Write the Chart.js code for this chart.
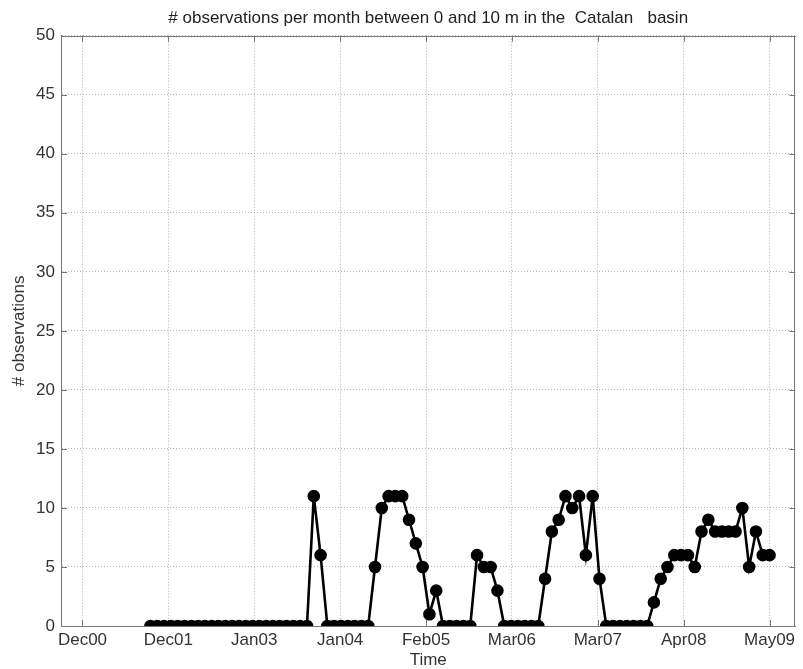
<!DOCTYPE html>
<html>
<head>
<meta charset="utf-8">
<script src="https://cdn.jsdelivr.net/npm/chart.js@4.4.1/dist/chart.umd.min.js"></script>
<style>
  html, body { margin: 0; padding: 0; background: #fff; }
</style>
</head>
<body>
<canvas id="chart" width="803" height="669"></canvas>
<script>
// x positions are months counted from Jan 2000
const tickLabels = ['Dec00', 'Dec01', 'Jan03', 'Jan04', 'Feb05', 'Mar06', 'Mar07', 'Apr08', 'May09'];
const tickMonths = [11, 23.625, 36.25, 48.875, 61.5, 74.125, 86.75, 99.375, 112];
const firstMonth = 21; // Oct 2001
const counts = [
  0, 0, 0, 0, 0, 0, 0, 0, 0, 0, 0, 0, 0, 0, 0, 0, 0, 0, 0, 0, 0, 0, 0, 0,
  11, 6,
  0, 0, 0, 0, 0, 0, 0,
  5, 10, 11, 11, 11, 9, 7, 5, 1, 3,
  0, 0, 0, 0, 0,
  6, 5, 5, 3,
  0, 0, 0, 0, 0, 0,
  4, 8, 9, 11, 10, 11, 6, 11, 4,
  0, 0, 0, 0, 0, 0, 0,
  2, 4, 5, 6, 6, 6, 5, 8, 9, 8, 8, 8, 8, 10, 5, 8, 6, 6
];
const yTicks = [0, 5, 10, 15, 20, 25, 30, 35, 40, 45, 50];

const points = counts.map((v, i) => ({ x: firstMonth + i, y: v }));
const font = { family: '"Liberation Sans", Arial, sans-serif', size: 17 };

// matlab-like box with ticks pointing inwards
const innerTicks = {
  id: 'innerTicks',
  beforeDatasetsDraw(chart) {
    const { ctx, chartArea: a, scales: { x, y } } = chart;
    ctx.save();
    ctx.strokeStyle = '#777';
    ctx.lineWidth = 1;
    ctx.beginPath();
    tickMonths.forEach(m => {
      const px = Math.round(x.getPixelForValue(m)) + 0.5;
      ctx.moveTo(px, a.bottom); ctx.lineTo(px, a.bottom - 6);
      ctx.moveTo(px, a.top); ctx.lineTo(px, a.top + 6);
    });
    yTicks.forEach(v => {
      const py = Math.round(y.getPixelForValue(v)) + 0.5;
      ctx.moveTo(a.left, py); ctx.lineTo(a.left + 6, py);
      ctx.moveTo(a.right, py); ctx.lineTo(a.right - 6, py);
    });
    ctx.moveTo(a.left, Math.round(a.top) + 0.5); ctx.lineTo(a.right, Math.round(a.top) + 0.5);
    ctx.moveTo(Math.round(a.right) - 0.5, a.top); ctx.lineTo(Math.round(a.right) - 0.5, a.bottom);
    ctx.stroke();
    ctx.restore();
  }
};

new Chart(document.getElementById('chart'), {
  type: 'line',
  data: {
    datasets: [{
      data: points,
      borderColor: '#000',
      borderWidth: 2.6,
      backgroundColor: '#000',
      pointBackgroundColor: '#000',
      pointBorderColor: '#000',
      pointRadius: 5,
      tension: 0
    }]
  },
  options: {
    responsive: false,
    animation: false,
    layout: { padding: { right: 1 } },
    plugins: {
      legend: { display: false },
      tooltip: { enabled: false },
      title: {
        display: true,
        fullSize: false,
        text: '# observations per month between 0 and 10 m in the  Catalan   basin',
        color: '#222',
        font: { ...font, weight: 'normal', lineHeight: 1.1 },
        padding: { top: 9, bottom: 8 }
      }
    },
    scales: {
      x: {
        type: 'linear',
        min: 7.84,
        max: 115.8,
        afterBuildTicks: s => { s.ticks = tickMonths.map(v => ({ value: v })); },
        afterFit: s => { s.height = 43; },
        ticks: {
          color: '#333',
          font,
          padding: 4,
          maxRotation: 0,
          callback: v => tickLabels[tickMonths.indexOf(v)]
        },
        grid: { color: '#b4b4b4', drawTicks: false },
        border: { display: true, color: '#777', dash: [1, 2] },
        title: { display: true, text: 'Time', color: '#333', font: { ...font, lineHeight: 1 }, padding: 0 }
      },
      y: {
        min: 0,
        max: 50,
        afterBuildTicks: s => { s.ticks = yTicks.map(v => ({ value: v })); },
        afterFit: s => { s.width = 61; },
        ticks: { color: '#333', font, padding: 6 },
        grid: { color: '#b4b4b4', drawTicks: false },
        border: { display: true, color: '#777', dash: [1, 2] },
        title: { display: true, text: '# observations', color: '#333', font: { ...font, lineHeight: 1 }, padding: { top: 11 } }
      }
    }
  },
  plugins: [innerTicks]
});
</script>
</body>
</html>
